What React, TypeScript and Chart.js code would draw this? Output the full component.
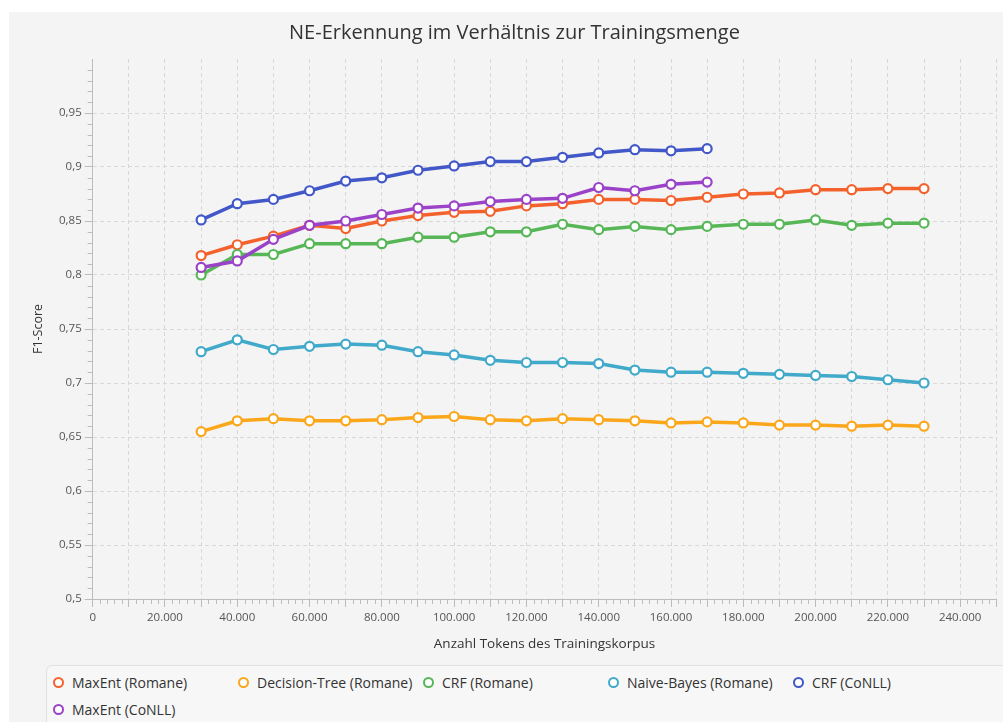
import React, { useEffect, useRef } from 'react';
import { Chart, registerables } from 'chart.js';

Chart.register(...registerables);

const chartTitle = 'NE-Erkennung im Verhältnis zur Trainingsmenge';
const xAxisTitle = 'Anzahl Tokens des Trainingskorpus';
const yAxisTitle = 'F1-Score';

const tokenCounts = [
  30000, 40000, 50000, 60000, 70000, 80000, 90000, 100000, 110000, 120000, 130000,
  140000, 150000, 160000, 170000, 180000, 190000, 200000, 210000, 220000, 230000,
];
const conllTokenCounts = [
  30000, 40000, 50000, 60000, 70000, 80000, 90000, 100000, 110000, 120000, 130000,
  140000, 150000, 160000, 170000,
];

const maxEntRomane = [
  0.818, 0.828, 0.836, 0.846, 0.843, 0.85, 0.855, 0.858, 0.859, 0.864, 0.866,
  0.87, 0.87, 0.869, 0.872, 0.875, 0.876, 0.879, 0.879, 0.88, 0.88,
];
const decisionTreeRomane = [
  0.655, 0.665, 0.667, 0.665, 0.665, 0.666, 0.668, 0.669, 0.666, 0.665, 0.667,
  0.666, 0.665, 0.663, 0.664, 0.663, 0.661, 0.661, 0.66, 0.661, 0.66,
];
const crfRomane = [
  0.8, 0.819, 0.819, 0.829, 0.829, 0.829, 0.835, 0.835, 0.84, 0.84, 0.847,
  0.842, 0.845, 0.842, 0.845, 0.847, 0.847, 0.851, 0.846, 0.848, 0.848,
];
const naiveBayesRomane = [
  0.729, 0.74, 0.731, 0.734, 0.736, 0.735, 0.729, 0.726, 0.721, 0.719, 0.719,
  0.718, 0.712, 0.71, 0.71, 0.709, 0.708, 0.707, 0.706, 0.703, 0.7,
];
const crfConll = [
  0.851, 0.866, 0.87, 0.878, 0.887, 0.89, 0.897, 0.901, 0.905, 0.905, 0.909,
  0.913, 0.916, 0.915, 0.917,
];
const maxEntConll = [
  0.807, 0.813, 0.833, 0.846, 0.85, 0.856, 0.862, 0.864, 0.868, 0.87, 0.871,
  0.881, 0.878, 0.884, 0.886,
];

const seriesNames = [
  'MaxEnt (Romane)',
  'Decision-Tree (Romane)',
  'CRF (Romane)',
  'Naive-Bayes (Romane)',
  'CRF (CoNLL)',
  'MaxEnt (CoNLL)',
];
const seriesColors = ['#f3622d', '#fba71b', '#57b757', '#41a9c9', '#4258c9', '#9a42c8'];
const seriesValues = [maxEntRomane, decisionTreeRomane, crfRomane, naiveBayesRomane, crfConll, maxEntConll];
const seriesXs = [tokenCounts, tokenCounts, tokenCounts, tokenCounts, conllTokenCounts, conllTokenCounts];

const xTickValues = [0, 20000, 40000, 60000, 80000, 100000, 120000, 140000, 160000, 180000, 200000, 220000, 240000];
const xTickLabels = ['0', '20.000', '40.000', '60.000', '80.000', '100.000', '120.000', '140.000', '160.000', '180.000', '200.000', '220.000', '240.000'];
const yTickValues = [0.5, 0.55, 0.6, 0.65, 0.7, 0.75, 0.8, 0.85, 0.9, 0.95];
const yTickLabels = ['0,5', '0,55', '0,6', '0,65', '0,7', '0,75', '0,8', '0,85', '0,9', '0,95'];

const FONT = 'Open Sans';
const AXIS_COLOR = '#bcbcbc';
const GRID_COLOR = '#d8d8d8';

const isMajorX = (v: number) => Math.round(v) % 10000 === 0;
const isMajorY = (v: number) => Math.round(v * 100) % 5 === 0;

const minorTicksPlugin = {
  id: 'minorTicks',
  afterDraw(chart: any) {
    const ctx = chart.ctx;
    const xs = chart.scales.x;
    const ys = chart.scales.y;
    ctx.save();
    ctx.strokeStyle = AXIS_COLOR;
    ctx.lineWidth = 1;
    xs.ticks.forEach((t: any) => {
      if (!isMajorX(t.value)) {
        const px = Math.round(xs.getPixelForValue(t.value)) + 0.5;
        ctx.beginPath();
        ctx.moveTo(px, xs.top);
        ctx.lineTo(px, xs.top + 5);
        ctx.stroke();
      }
    });
    ys.ticks.forEach((t: any) => {
      if (!isMajorY(t.value)) {
        const py = Math.round(ys.getPixelForValue(t.value)) + 0.5;
        ctx.beginPath();
        ctx.moveTo(ys.right - 5, py);
        ctx.lineTo(ys.right, py);
        ctx.stroke();
      }
    });
    ctx.restore();
  },
};

function ChartCanvas() {
  const ref = useRef<HTMLCanvasElement | null>(null);
  useEffect(() => {
    if (!ref.current) return;
    const datasets = seriesNames.map((name, i) => ({
      label: name,
      data: seriesXs[i].map((x, j) => ({ x, y: seriesValues[i][j] })),
      borderColor: seriesColors[i],
      backgroundColor: seriesColors[i],
      borderWidth: 3.5,
      pointRadius: 4.5,
      pointBorderWidth: 2.2,
      pointBackgroundColor: '#ffffff',
      pointBorderColor: seriesColors[i],
      tension: 0,
      order: seriesNames.length - i,
    }));
    const chart = new Chart(ref.current, {
      type: 'line',
      data: { datasets },
      plugins: [minorTicksPlugin],
      options: {
        animation: false,
        responsive: false,
        devicePixelRatio: 1,
        events: [],
        layout: { padding: { left: 18, right: 1, top: 0, bottom: 8 } },
        plugins: {
          legend: { display: false },
          tooltip: { enabled: false },
          title: {
            display: true,
            text: chartTitle,
            color: '#333333',
            font: { family: FONT, size: 20, weight: 'normal' },
            padding: { top: 9, bottom: 14 },
          },
        },
        scales: {
          x: {
            type: 'linear',
            min: 0,
            max: 250000,
            title: {
              display: true,
              text: xAxisTitle,
              color: '#333333',
              font: { family: FONT, size: 13.5 },
              padding: { top: 7, bottom: 4 },
            },
            ticks: {
              stepSize: 2000,
              autoSkip: false,
              maxRotation: 0,
              minRotation: 0,
              padding: 4,
              color: '#555555',
              font: { family: FONT, size: 11.5 },
              callback: (v: any) => {
                const i = xTickValues.indexOf(Math.round(Number(v)));
                return i >= 0 ? xTickLabels[i] : '';
              },
            },
            grid: {
              color: (c: any) => (c.tick && isMajorX(c.tick.value) && c.tick.value !== 0 ? GRID_COLOR : 'rgba(0,0,0,0)'),
              tickColor: (c: any) => (c.tick && isMajorX(c.tick.value) ? AXIS_COLOR : 'rgba(0,0,0,0)'),
              tickLength: 8,
              lineWidth: 1,
            },
            border: { display: true, color: AXIS_COLOR, dash: [4, 3] },
          },
          y: {
            type: 'linear',
            min: 0.5,
            max: 1.0,
            title: {
              display: true,
              text: yAxisTitle,
              color: '#333333',
              font: { family: FONT, size: 12.5 },
              padding: { top: 4, bottom: 10 },
            },
            ticks: {
              stepSize: 0.01,
              autoSkip: false,
              padding: 3,
              color: '#555555',
              font: { family: FONT, size: 11.5 },
              callback: (v: any) => {
                const n = Math.round(Number(v) * 100);
                const i = yTickValues.findIndex((t) => Math.round(t * 100) === n);
                return i >= 0 ? yTickLabels[i] : '';
              },
            },
            grid: {
              color: (c: any) => {
                if (!c.tick) return 'rgba(0,0,0,0)';
                const n = Math.round(c.tick.value * 100);
                return isMajorY(c.tick.value) && n !== 50 && n !== 100 ? GRID_COLOR : 'rgba(0,0,0,0)';
              },
              tickColor: (c: any) => (c.tick && isMajorY(c.tick.value) && Math.round(c.tick.value * 100) !== 100 ? AXIS_COLOR : 'rgba(0,0,0,0)'),
              tickLength: 8,
              lineWidth: 1,
            },
            border: { display: true, color: AXIS_COLOR, dash: [4, 3] },
          },
        },
      } as any,
    });
    return () => chart.destroy();
  }, []);
  return <canvas ref={ref} width={994} height={652} style={{ display: 'block' }} />;
}

function Legend() {
  return (
    <div
      style={{
        position: 'absolute',
        left: 37,
        top: 653,
        width: 1000,
        height: 80,
        boxSizing: 'border-box',
        border: '1px solid #e1e1e1',
        borderRadius: 6,
        background: '#f7f7f7',
        paddingLeft: 6,
        paddingTop: 3,
        display: 'grid',
        gridTemplateColumns: 'repeat(5, 185px)',
        gridAutoRows: '27px',
        fontFamily: FONT,
        fontSize: 14,
        color: '#333333',
      }}
    >
      {seriesNames.map((name, i) => (
        <div key={name} style={{ display: 'flex', alignItems: 'center', whiteSpace: 'nowrap' }}>
          <span
            style={{
              display: 'inline-block',
              width: 7,
              height: 7,
              borderRadius: '50%',
              border: `2px solid ${seriesColors[i]}`,
              background: '#ffffff',
              marginRight: 8,
            }}
          />
          <span>{name}</span>
        </div>
      ))}
    </div>
  );
}

export default function App() {
  return (
    <div style={{ position: 'absolute', left: 0, top: 0, width: 1003, height: 722, background: '#ffffff', overflow: 'hidden' }}>
      <div style={{ position: 'absolute', left: 9, top: 12, width: 994, height: 710, background: '#f4f4f4', overflow: 'hidden' }}>
        <ChartCanvas />
        <Legend />
      </div>
    </div>
  );
}
